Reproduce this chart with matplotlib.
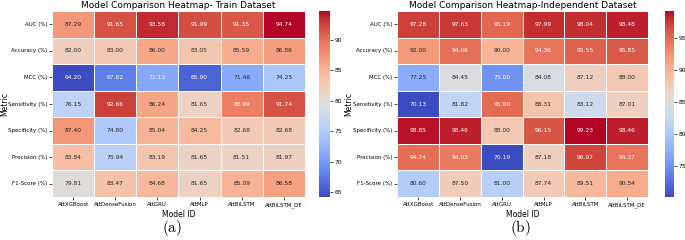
import matplotlib
matplotlib.use("Agg")
import matplotlib.pyplot as plt
import seaborn as sns
import numpy as np
import pandas as pd

models = ["AttXGBoost", "AttDenseFusion", "AttGRU", "AttMLP", "AttBiLSTM", "AttBiLSTM_DE"]
metrics = ["AUC (%)", "Accuracy (%)", "MCC (%)", "Sensitivity (%)",
           "Specificity (%)", "Precision (%)", "F1-Score (%)"]

train_auc = [87.29, 91.65, 93.58, 91.99, 91.35, 94.74]
train_acc = [82.00, 83.00, 86.00, 83.05, 85.59, 86.86]
train_mcc = [64.20, 67.82, 71.13, 65.90, 71.46, 74.25]
train_sen = [76.15, 92.66, 86.24, 81.65, 88.99, 91.74]
train_spe = [87.40, 74.80, 85.04, 84.25, 82.68, 82.68]
train_pre = [83.84, 75.94, 83.19, 81.65, 81.51, 81.97]
train_f1 = [79.81, 83.47, 84.68, 81.65, 85.09, 86.58]

ind_auc = [97.28, 97.63, 95.19, 97.99, 98.04, 98.48]
ind_acc = [92.00, 94.66, 90.00, 94.36, 95.55, 95.85]
ind_mcc = [77.25, 84.45, 75.00, 84.08, 87.12, 88.00]
ind_sen = [70.13, 81.82, 95.00, 88.31, 83.12, 87.01]
ind_spe = [98.85, 98.46, 88.00, 96.15, 99.23, 98.46]
ind_pre = [94.74, 94.03, 70.19, 87.18, 96.97, 94.37]
ind_f1 = [80.60, 87.50, 81.00, 87.74, 89.51, 90.54]

train_df = pd.DataFrame([train_auc, train_acc, train_mcc, train_sen, train_spe, train_pre, train_f1],
                        index=metrics, columns=models)
ind_df = pd.DataFrame([ind_auc, ind_acc, ind_mcc, ind_sen, ind_spe, ind_pre, ind_f1],
                      index=metrics, columns=models)

plt.rcParams['mathtext.fontset'] = 'cm'
fig = plt.figure(figsize=(6.85, 2.4), dpi=100)

panels = [
    (train_df, "Model Comparison Heatmap- Train Dataset", [0.076, 0.179, 0.369, 0.775], [0.466, 0.179, 0.016, 0.775], 0.251, "(a)", -0.170),
    (ind_df, "Model Comparison Heatmap-Independent Dataset", [0.580, 0.179, 0.366, 0.775], [0.971, 0.179, 0.013, 0.775], 0.76, "(b)", -0.175),
]

for df, title, axpos, cpos, capx, cap, ylx in panels:
    ax = fig.add_axes(axpos)
    cax = fig.add_axes(cpos)
    sns.heatmap(df, ax=ax, cbar_ax=cax, cmap="coolwarm", annot=True, fmt=".2f",
                linewidths=0.5, linecolor="white", annot_kws={"fontsize": 4.3})
    ax.set_title(title, fontsize=6.5, pad=2)
    ax.set_xlabel("Model ID", fontsize=5.5, labelpad=2)
    ax.set_ylabel("Metric", fontsize=5.5)
    ax.yaxis.set_label_coords(ylx, 0.5)
    ax.tick_params(axis='both', labelsize=4.0, length=2, width=0.5, pad=1.5)
    ax.set_yticklabels(ax.get_yticklabels(), rotation=0)
    ax.set_xticklabels(ax.get_xticklabels(), rotation=0)
    cax.tick_params(labelsize=4.3, length=2, width=0.5, pad=1)
    for s in cax.spines.values():
        s.set_visible(False)
    fig.text(capx, 0.05, r"$(\mathrm{" + cap[1] + r"})$", fontsize=11, ha="center", va="center")

fig.savefig("out.png", dpi=100)
